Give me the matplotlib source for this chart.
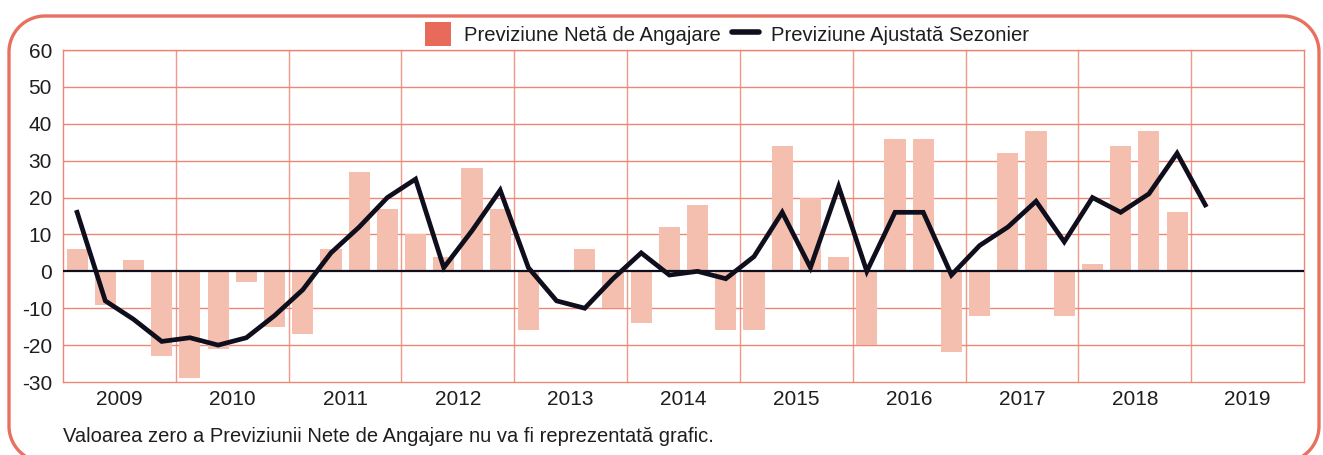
import numpy as np
import matplotlib
matplotlib.use("Agg")
import matplotlib.pyplot as plt
from matplotlib.patches import Patch
from matplotlib.lines import Line2D

plt.rcParams['font.family'] = ['Liberation Sans', 'DejaVu Sans']
plt.rcParams['axes.unicode_minus'] = False

# Data (quarterly, 2009 Q1 ...)
years = list(range(2009, 2020))
net_outlook = [6, -9, 3, -23,
               -29, -21, -3, -15,
               -17, 6, 27, 17,
               10, 4, 28, 17,
               -16, 0, 6, -10,
               -14, 12, 18, -16,
               -16, 34, 20, 4,
               -20, 36, 36, -22,
               -12, 32, 38, -12,
               2, 34, 38, 16]
adjusted = [16, -8, -13, -19,
            -18, -20, -18, -12,
            -5, 5, 12, 20,
            25, 1, 11, 22,
            1, -8, -10, -2,
            5, -1, 0, -2,
            4, 16, 1, 23,
            0, 16, 16, -1,
            7, 12, 19, 8,
            20, 16, 21, 32,
            18]
label_bars = "Previziune Netă de Angajare"
label_line = "Previziune Ajustată Sezonier"
footnote = "Valoarea zero a Previziunii Nete de Angajare nu va fi reprezentată grafic."

coral = "#E8705F"
grid_c = "#EE8676"
bar_c = "#F5BFB0"
navy = "#0E0E1C"
txt_c = "#1E1E1E"

W, H = 1323, 455
fig = plt.figure(figsize=(W / 100, H / 100), dpi=100)

# rounded frame in pixel coordinates, bottom edge runs just off the image
bg = fig.add_axes([0, 0, 1, 1])
bg.set_xlim(0, W)
bg.set_ylim(H, 0)
bg.axis("off")
fx0, fy0, fx1, fy1, r = 9, 16, 1319, 462, 36
t = np.linspace(0, np.pi / 2, 30)
px, py = [(fx0 + fx1) / 2], [fy0]
for cx, cy, a0 in [(fx1 - r, fy0 + r, -np.pi / 2), (fx1 - r, fy1 - r, 0),
                   (fx0 + r, fy1 - r, np.pi / 2), (fx0 + r, fy0 + r, np.pi)]:
    px.extend(cx + r * np.cos(a0 + t))
    py.extend(cy + r * np.sin(a0 + t))
px.append(px[0])
py.append(py[0])
bg.plot(px, py, color=coral, lw=2.4, clip_on=False, solid_capstyle="butt")

ax = fig.add_axes([63 / W, 1 - 382 / H, (1304 - 63) / W, (382 - 50) / H])
x_bar = np.arange(len(net_outlook))
x_line = np.arange(len(adjusted))
vals = np.array(net_outlook, dtype=float)
mask = vals != 0
ax.bar(x_bar[mask], vals[mask], width=0.75, color=bar_c, zorder=2)
ax.axhline(0, color=navy, lw=1.6, zorder=3)
ax.plot(x_line, adjusted, color=navy, lw=3.4, solid_joinstyle="miter", zorder=4)

nq = len(years) * 4
ax.set_xlim(-0.5, nq - 0.5)
ax.set_ylim(-30, 60)
ax.set_yticks(range(-30, 61, 10))
for v in range(-20, 61, 10):
    if v != 0:
        ax.axhline(v, color=grid_c, lw=1.0, zorder=1)
for k in range(1, len(years)):
    ax.axvline(4 * k - 0.5, color=grid_c, lw=1.0, alpha=0.85, zorder=1)
ax.set_xticks([4 * i + 1.5 for i in range(len(years))])
ax.set_xticklabels([str(y) for y in years])
ax.tick_params(axis="both", length=0, labelsize=15, colors=txt_c)
ax.tick_params(axis="y", pad=8)
ax.tick_params(axis="x", pad=6)
for s in ax.spines.values():
    s.set_color(grid_c)
    s.set_linewidth(1.0)

handles = [Patch(facecolor="#E86A5A", edgecolor="none"),
           Line2D([0], [0], color=navy, lw=4, solid_capstyle="round")]
fig.legend(handles, [label_bars, label_line], loc="center", bbox_to_anchor=(727 / W, 1 - 34 / H),
           ncol=2, frameon=False, fontsize=14.6, handlelength=1.3, handletextpad=0.6,
           columnspacing=0.6, handleheight=1.4, labelcolor=txt_c)

fig.text(63 / W, 1 - 436 / H, footnote, fontsize=14.5, color=txt_c, va="center", ha="left")

fig.savefig("out.png", dpi=100)
